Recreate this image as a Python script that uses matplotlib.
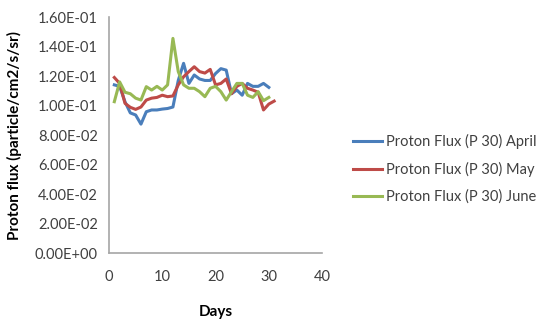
import numpy as np
import matplotlib.pyplot as plt

plt.rcParams['font.family'] = ['Lato', 'DejaVu Sans']

days_apr = list(range(1, 31))
flux_apr = [0.114, 0.113, 0.1026, 0.095, 0.0936, 0.0874, 0.0958, 0.097, 0.097, 0.0976,
            0.098, 0.099, 0.117, 0.1286, 0.115, 0.1207, 0.118, 0.117, 0.117, 0.1217,
            0.125, 0.124, 0.108, 0.1105, 0.107, 0.115, 0.113, 0.113, 0.115, 0.1123]

days_may = list(range(1, 32))
flux_may = [0.119, 0.115, 0.1015, 0.0988, 0.0974, 0.099, 0.1037, 0.105, 0.1055, 0.107,
            0.106, 0.1065, 0.114, 0.1195, 0.123, 0.1263, 0.123, 0.122, 0.1245, 0.114,
            0.115, 0.118, 0.108, 0.113, 0.115, 0.1117, 0.1105, 0.109, 0.097, 0.101, 0.103]

days_jun = list(range(1, 31))
flux_jun = [0.1026, 0.116, 0.109, 0.108, 0.105, 0.1037, 0.1128, 0.1105, 0.113, 0.1105,
            0.114, 0.1455, 0.123, 0.114, 0.1117, 0.1117, 0.1094, 0.106, 0.1117, 0.113,
            0.1094, 0.1037, 0.1094, 0.115, 0.115, 0.107, 0.1055, 0.1094, 0.1033, 0.1055]

fig = plt.figure(figsize=(5.45, 3.27), dpi=100)
ax = fig.add_axes([0.2, 0.226, 0.391, 0.722])

ax.plot(days_apr, flux_apr, color='#4A7EBB', lw=2.2, label='Proton Flux (P 30) April')
ax.plot(days_may, flux_may, color='#BE4B48', lw=2.2, label='Proton Flux (P 30) May')
ax.plot(days_jun, flux_jun, color='#98B954', lw=2.2, label='Proton Flux (P 30) June')

ax.set_xlim(0, 40)
ax.set_ylim(0, 0.16)
ax.set_xticks(np.arange(0, 41, 10))
ax.set_yticks(np.arange(0, 0.161, 0.02))
ax.set_yticklabels(['%.2E' % v for v in np.arange(0, 0.161, 0.02)])
ax.tick_params(length=0, labelsize=10.5, colors='#404040', pad=8)
ax.tick_params(axis='x', pad=12)

for s in ['top', 'right']:
    ax.spines[s].set_visible(False)
for s in ['left', 'bottom']:
    ax.spines[s].set_color('#A6A6A6')
    ax.spines[s].set_linewidth(1.2)

ax.set_xlabel('Days', fontsize=11, fontweight='bold', labelpad=15)
ax.set_ylabel('Proton flux (particle/cm2/s/sr)', fontsize=11, fontweight='bold', labelpad=9)

ax.legend(loc='center left', bbox_to_anchor=(1.085, 0.356), frameon=False, fontsize=10.5,
          handlelength=2.0, labelspacing=0.85, handletextpad=0.25, labelcolor='#404040')

fig.savefig('out.png', dpi=100)
